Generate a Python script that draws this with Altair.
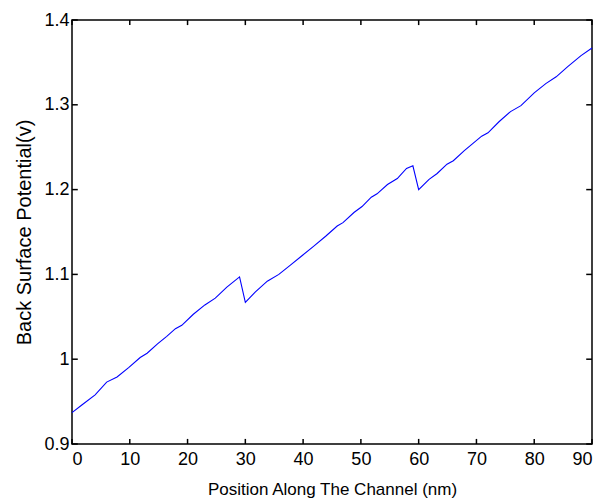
import altair as alt
import pandas as pd

# Values
pos_nm = [0, 1.7, 4, 6, 7.8, 9.8, 11.8, 13, 14.8, 16.4, 17.9, 19, 21, 23, 24.8, 26.8, 29, 30,
          31.7, 33.8, 35.8, 37.8, 39.8, 41.8, 43.9, 45.9, 46.9, 48.8, 50.2, 51.8, 52.8, 54.6, 56.3, 57.9, 59, 60,
          61.8, 63.2, 64.9, 66, 67.9, 69.3, 70.9, 72, 73.9, 75.9, 77.7, 80, 82, 83.8, 85.8, 88.1, 90]
potential_v = [0.937, 0.946, 0.958, 0.973, 0.979, 0.990, 1.002, 1.007, 1.018, 1.027, 1.036, 1.040, 1.053, 1.064, 1.072, 1.085, 1.097, 1.067,
               1.079, 1.092, 1.100, 1.111, 1.122, 1.133, 1.145, 1.157, 1.161, 1.173, 1.180, 1.191, 1.195, 1.206, 1.213, 1.225, 1.228, 1.200,
               1.212, 1.219, 1.230, 1.234, 1.246, 1.254, 1.263, 1.267, 1.280, 1.292, 1.299, 1.314, 1.325, 1.333, 1.345, 1.358, 1.367]

x_ticks = [0, 10, 20, 30, 40, 50, 60, 70, 80, 90]
y_ticks = [0.9, 1.0, 1.1, 1.2, 1.3, 1.4]

X_DOM = [0, 90]
Y_DOM = [0.9, 1.4]
FONT = "Liberation Sans"

df = pd.DataFrame({"x": pos_nm, "y": potential_v})

xs = alt.Scale(domain=X_DOM, nice=False, zero=False)
ys = alt.Scale(domain=Y_DOM, nice=False, zero=False)

line = alt.Chart(df).mark_line(color="#0000FF", strokeWidth=1.1).encode(
    x=alt.X("x:Q", scale=xs, title="Position Along The Channel (nm)",
            axis=alt.Axis(values=x_ticks, format="~g", tickSize=0, grid=False,
                          domain=False, labelPadding=6, titlePadding=13,
                          titleFontSize=17)),
    y=alt.Y("y:Q", scale=ys, title="Back Surface Potential(v)",
            axis=alt.Axis(values=y_ticks, format="~g", tickSize=0, grid=False,
                          domain=False, labelPadding=3, titlePadding=9,
                          titleFontSize=20)),
)

# inward tick marks on all four sides
xt = pd.DataFrame({"t": x_ticks})
yt = pd.DataFrame({"t": y_ticks})
tick_len_y = 0.006
tick_len_x = 1.0

bottom = alt.Chart(xt).mark_rule(color="black", strokeWidth=1.5).encode(
    x=alt.X("t:Q", scale=xs), y=alt.YDatum(Y_DOM[0]),
    y2=alt.Y2Datum(Y_DOM[0] + tick_len_y))
top = alt.Chart(xt).mark_rule(color="black", strokeWidth=1.5).encode(
    x=alt.X("t:Q", scale=xs), y=alt.YDatum(Y_DOM[1]),
    y2=alt.Y2Datum(Y_DOM[1] - tick_len_y))
left = alt.Chart(yt).mark_rule(color="black", strokeWidth=1.5).encode(
    y=alt.Y("t:Q", scale=ys), x=alt.XDatum(X_DOM[0]),
    x2=alt.X2Datum(X_DOM[0] + tick_len_x))
right = alt.Chart(yt).mark_rule(color="black", strokeWidth=1.5).encode(
    y=alt.Y("t:Q", scale=ys), x=alt.XDatum(X_DOM[1]),
    x2=alt.X2Datum(X_DOM[1] - tick_len_x))

chart = alt.layer(line, bottom, top, left, right).properties(
    width=520, height=424,
    padding={"left": 64, "top": 12, "right": 3, "bottom": 58},
    autosize=alt.AutoSizeParams(type="none"),
    background="white",
).configure_view(
    stroke="black", strokeWidth=1.5
).configure_axis(
    labelFont=FONT, titleFont=FONT, labelFontSize=18,
    labelColor="black", titleColor="black", titleFontWeight="normal",
)

chart.save("out.html", embed_options={"renderer": "svg", "actions": False})
